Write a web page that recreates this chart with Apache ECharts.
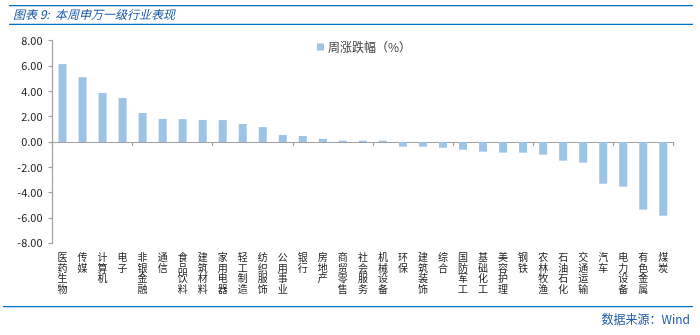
<!DOCTYPE html>
<html>
<head>
<meta charset="utf-8">
<script src="https://cdn.jsdelivr.net/npm/echarts@6/dist/echarts.min.js"></script>
<style>
  html, body { margin: 0; padding: 0; background: #fff; }
  #chart { width: 700px; height: 335px; }
</style>
</head>
<body>
<div id="chart"></div>
<script>
// 申万一级行业本周涨跌幅（%）
const industries = [
  '医药生物', '传媒', '计算机', '电子', '非银金融', '通信', '食品饮料', '建筑材料',
  '家用电器', '轻工制造', '纺织服饰', '公用事业', '银行', '房地产', '商贸零售', '社会服务',
  '机械设备', '环保', '建筑装饰', '综合', '国防军工', '基础化工', '美容护理', '钢铁',
  '农林牧渔', '石油石化', '交通运输', '汽车', '电力设备', '有色金属', '煤炭'
];
const weeklyChange = [
  6.15, 5.12, 3.87, 3.47, 2.29, 1.82, 1.81, 1.74,
  1.73, 1.42, 1.18, 0.55, 0.47, 0.25, 0.1, 0.1,
  0.1, -0.37, -0.37, -0.45, -0.61, -0.76, -0.84, -0.84,
  -1.00, -1.47, -1.63, -3.29, -3.53, -5.34, -5.82
];
const seriesName = '周涨跌幅（%）';
const titleText = '图表 9:  本周申万一级行业表现';
const sourceText = '数据来源：Wind';

const axisGray = '#a0a0a0';
const barBlue = '#9dc3e6';
const titleBlue = '#1e5aa8';
const ruleBlue = '#0070c0';

const chart = echarts.init(document.getElementById('chart'), null, { renderer: 'canvas' });
chart.setOption({
  animation: false,
  backgroundColor: '#ffffff',
  textStyle: { fontFamily: '"Noto Sans CJK SC", "Liberation Sans", sans-serif' },
  graphic: [
    { type: 'rect', shape: { x: 9, y: 5, width: 684, height: 1.3 }, style: { fill: ruleBlue }, silent: true },
    { type: 'rect', shape: { x: 9, y: 23.8, width: 684, height: 1.2 }, style: { fill: ruleBlue }, silent: true },
    {
      type: 'text', left: 13, top: 8,
      style: { text: titleText, fill: titleBlue, fontSize: 12, fontStyle: 'italic',
               fontFamily: '"Noto Sans CJK SC", sans-serif' }
    },
    { type: 'rect', shape: { x: 3, y: 306, width: 690, height: 1.3 }, style: { fill: ruleBlue }, silent: true },
    {
      type: 'text', right: 10, top: 313,
      style: { text: sourceText, fill: titleBlue, fontSize: 12,
               fontFamily: '"Noto Sans CJK SC", sans-serif' }
    }
  ],
  legend: {
    show: true,
    left: 312, top: 36,
    icon: 'rect', itemWidth: 7, itemHeight: 7, itemGap: 4,
    textStyle: { fontSize: 12, color: '#404040', padding: [0, 0, 0, -1] },
    data: [seriesName]
  },
  grid: { left: 52.5, right: 26.7, top: 40.7, bottom: 91.7, containLabel: false },
  xAxis: [
    {
      type: 'category',
      data: industries,
      boundaryGap: true,
      axisLine: { show: true, onZero: true, lineStyle: { color: axisGray, width: 1.2 } },
      axisTick: { show: true, length: 4, alignWithLabel: false, lineStyle: { color: axisGray, width: 1.2 } },
      axisLabel: { show: false },
      splitLine: { show: false }
    },
    {
      type: 'category',
      data: industries,
      position: 'bottom',
      boundaryGap: true,
      axisLine: { show: false, onZero: false },
      axisTick: { show: false },
      axisLabel: {
        show: true, interval: 0, margin: 9,
        fontSize: 10, lineHeight: 10.5, color: '#1a1a1a',
        verticalAlign: 'top',
        formatter: v => v.split('').join('\n')
      },
      splitLine: { show: false }
    }
  ],
  yAxis: {
    type: 'value',
    min: -8, max: 8, interval: 2,
    axisLine: { show: true, lineStyle: { color: axisGray, width: 1.2 } },
    axisTick: { show: true, length: 4, lineStyle: { color: axisGray, width: 1.2 } },
    axisLabel: { fontSize: 11, color: '#1a1a1a', margin: 10, formatter: v => v.toFixed(2) },
    splitLine: { show: false }
  },
  series: [
    {
      name: seriesName,
      type: 'bar',
      xAxisIndex: 0,
      data: weeklyChange,
      barWidth: 8,
      itemStyle: { color: barBlue }
    }
  ]
});
</script>
</body>
</html>
